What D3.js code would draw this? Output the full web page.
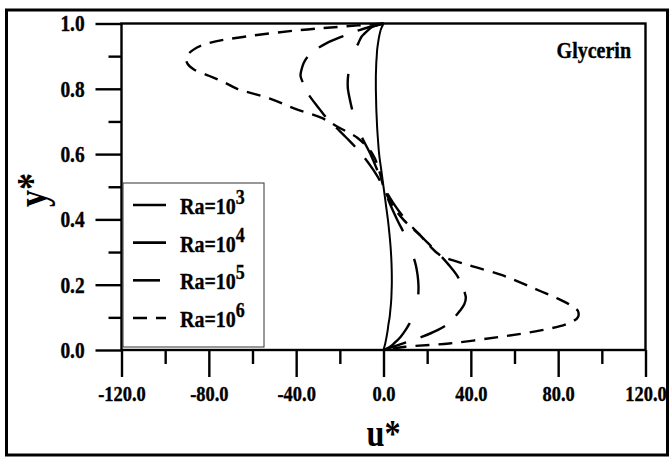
<!DOCTYPE html>
<html><head><meta charset="utf-8">
<script src="https://cdn.jsdelivr.net/npm/d3@7/dist/d3.min.js"></script>
<style>
html,body{margin:0;padding:0;background:#fff;}
text{font-family:"Liberation Serif","Times New Roman",serif;font-weight:bold;fill:#000;}
</style></head>
<body>
<svg id="chart" width="671" height="458"></svg>
<script>
// ---- data ----
const yStar = [1.00,0.99,0.98,0.96,0.94,0.92,0.90,0.88,0.86,0.84,0.82,0.80,0.77,0.74,0.71,0.68,0.65,0.60,0.55,0.50,
               0.45,0.40,0.35,0.32,0.29,0.26,0.23,0.20,0.18,0.16,0.14,0.12,0.10,0.08,0.06,0.04,0.02,0.01,0.00];
const uRa3 = [0,-0.7,-1.3,-2,-2.5,-2.9,-3.1,-3.3,-3.4,-3.5,-3.5,-3.5,-3.4,-3.3,-3.1,-2.9,-2.6,-2,-1,0,
              1,2,2.8,3.2,3.5,3.7,3.8,3.8,3.7,3.6,3.4,3.1,2.8,2.3,1.9,1.4,0.8,0.4,0];
const uRa4 = [0,-5,-7,-10,-11.5,-13,-14,-15,-15.7,-16.2,-16.4,-16.3,-15.5,-14.5,-13.3,-11.8,-9.8,-6,-2.8,0,
              2.8,6.2,10,12,13.5,14.8,15.6,16,16,15.8,15.2,14.5,13.2,11.8,10,7.8,4.8,3,0];
const uRa5 = [0,-6,-11,-19,-26,-31,-34.5,-36.5,-37.5,-38,-37,-36,-33,-29.5,-26,-21.5,-17,-10,-4.5,0,
              4.5,10,17,21.5,26,30,33.5,36,37,37.7,37,35,32.5,29.5,24.5,17.5,9,4.5,0];
const uRa6 = [0,-20,-38,-63,-80,-87,-90,-90,-87,-80,-73,-67,-52,-41,-28,-20,-12,-5,-2,0,
              3.5,9,17,21,26,39,54,65,72,79,85,89,89,84,72,53,30,10,0];
const seriesNames = ["3","4","5","6"];
const xTicksMajor = [-120,-80,-40,0,40,80,120];
const xTicksMinor = [-100,-60,-20,20,60,100];
const yTicksMajor = [0,0.2,0.4,0.6,0.8,1.0];
const yTicksMinor = [0.1,0.3,0.5,0.7,0.9];
const xTitle = "u*", yTitle = "y*", fluidLabel = "Glycerin";

// ---- layout ----
const svg = d3.select("#chart");
const L = 121.5, R = 645.5, T = 23.5, B = 350;
const x = d3.scaleLinear().domain([-120,120]).range([L,R]);
const y = d3.scaleLinear().domain([0,1]).range([B,T]);
const fmt = v => d3.format(".1f")(v).replace("\u2212","-");

// outer border
svg.append("rect").attr("x",6.5).attr("y",10).attr("width",661).attr("height",445)
  .attr("fill","none").attr("stroke","#000").attr("stroke-width",3);

const styles = [
  {dash:null, w:2},
  {dash:"36,30", w:2.4},
  {dash:"27,15", w:2.4},
  {dash:"14,9", w:2.4}
];
const allU = [uRa3,uRa4,uRa5,uRa6];

// curves
const line = d3.line().x(d=>x(d[0])).y(d=>y(d[1])).curve(d3.curveCatmullRom.alpha(0.5));
const gCurves = svg.append("g");
allU.forEach((u,i)=>{
  const pts = u.map((v,k)=>[v,yStar[k]]);
  gCurves.append("path").datum(pts).attr("d",line)
    .attr("fill","none").attr("stroke","#000")
    .attr("stroke-width",styles[i].w)
    .attr("stroke-dasharray",styles[i].dash);
});

// axes
const ax = svg.append("g");
const yAxMaj = d3.axisLeft(y).tickValues(yTicksMajor).tickSize(26).tickPadding(12).tickFormat(fmt);
const yAxMin = d3.axisLeft(y).tickValues(yTicksMinor).tickSize(13).tickFormat("");
const xAxMaj = d3.axisBottom(x).tickValues(xTicksMajor).tickSize(27).tickPadding(12).tickFormat(fmt);
const xAxMin = d3.axisBottom(x).tickValues(xTicksMinor).tickSize(14).tickFormat("");
function styleAx(g,fs){
  g.select(".domain").remove();
  g.selectAll("line").attr("stroke","#000").attr("stroke-width",2.4);
  g.selectAll("text").attr("font-size",fs).attr("font-family","Liberation Serif").attr("font-weight","bold")
    .attr("fill","#000").attr("stroke","#000").attr("stroke-width",0.35);
}
ax.append("g").attr("transform",`translate(${L},0)`).call(yAxMaj).call(g=>styleAx(g,20))
  .call(g=>g.selectAll("text").attr("transform","scale(0.97,1.15)"));
ax.append("g").attr("transform",`translate(${L},0)`).call(yAxMin).call(g=>styleAx(g,20));
ax.append("g").attr("transform",`translate(0,${B})`).call(xAxMaj).call(g=>styleAx(g,19))
  .call(g=>g.selectAll("text").attr("y",0).attr("transform","translate(0,36) scale(0.97,1.12)"));
ax.append("g").attr("transform",`translate(0,${B})`).call(xAxMin).call(g=>styleAx(g,19));

// frame
svg.append("rect").attr("x",L).attr("y",T).attr("width",R-L).attr("height",B-T)
  .attr("fill","none").attr("stroke","#000").attr("stroke-width",2.4);

// titles
svg.append("text").attr("transform",`translate(${x(0)},446) scale(0.95,1.12)`).attr("text-anchor","middle")
  .attr("font-size",34).text(xTitle);
svg.append("text").attr("transform",`translate(46,${y(0.49)}) rotate(-90) scale(0.95,1.15)`).attr("text-anchor","middle")
  .attr("font-size",36).text(yTitle);
svg.append("text").attr("transform","translate(631,58) scale(1,1.12)").attr("text-anchor","end")
  .attr("font-size",20).attr("stroke","#000").attr("stroke-width",0.3).text(fluidLabel);

// legend
const lg = svg.append("g");
lg.append("rect").attr("x",123).attr("y",183).attr("width",141).attr("height",164)
  .attr("fill","#fff").attr("stroke","#333").attr("stroke-width",1);
const legY = d3.scalePoint().domain(seriesNames).range([205,318]);
seriesNames.forEach((s,i)=>{
  const yy = legY(s);
  lg.append("line").attr("x1",133).attr("x2",166).attr("y1",yy).attr("y2",yy)
    .attr("stroke","#000").attr("stroke-width",2.6).attr("stroke-dasharray",styles[i].dash);
  const t = lg.append("text").attr("transform",`translate(180,${yy+9}) scale(1,1.12)`).attr("font-size",20)
    .attr("stroke","#000").attr("stroke-width",0.3);
  t.append("tspan").text("Ra=10");
  t.append("tspan").attr("dy",-9).attr("font-size",18).text(s);
});
</script>
</body></html>
